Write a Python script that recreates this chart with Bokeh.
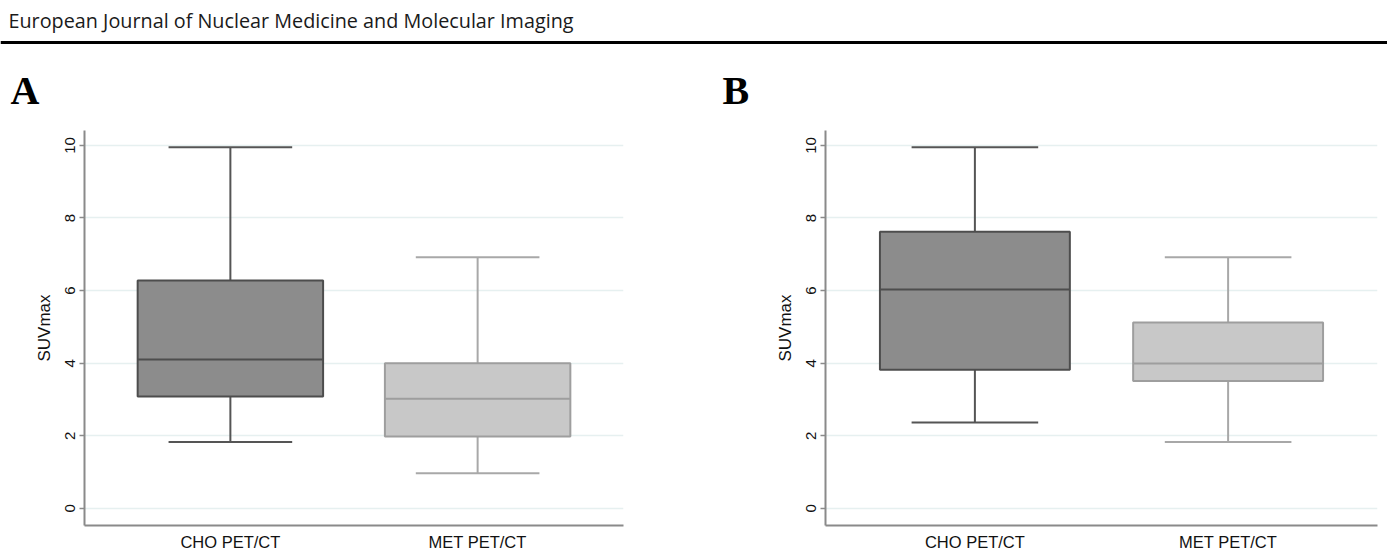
from bokeh.plotting import figure
from bokeh.models import Range1d, FixedTicker, Span
from bokeh.layouts import column, row
from bokeh.core.properties import value
from bokeh.embed import file_html
from bokeh.resources import INLINE

# ---------------- data ----------------
journal = "European Journal of Nuclear Medicine and Molecular Imaging"
panel_letters = ["A", "B"]
categories = ["CHO PET/CT", "MET PET/CT"]
y_ticks = [0, 2, 4, 6, 8, 10]
y_label = "SUVmax"

# panel A
a_low = [1.83, 0.97]
a_q1 = [3.08, 1.98]
a_med = [4.10, 3.02]
a_q3 = [6.28, 4.00]
a_high = [9.95, 6.92]

# panel B
b_low = [2.37, 1.83]
b_q1 = [3.82, 3.51]
b_med = [6.03, 3.99]
b_q3 = [7.62, 5.12]
b_high = [9.95, 6.92]

# styles
fills = ["#8c8c8c", "#c8c8c8"]
edges = ["#4d4d4d", "#9e9e9e"]
whisk = ["#555555", "#a8a8a8"]

W, H = 1387, 556
HEADER_H = 112


def make_header():
    p = figure(width=W, height=HEADER_H, x_range=Range1d(0, W), y_range=Range1d(HEADER_H, 0),
               output_backend="svg", toolbar_location=None, min_border=0)
    p.axis.visible = False
    p.grid.visible = False
    p.outline_line_color = None
    p.text(x=[8], y=[20], text=[journal], text_font=value("Open Sans"),
           text_font_size="19.8px", text_baseline="middle", text_color="#1a1a1a")
    p.add_layout(Span(location=42, dimension="width", line_color="black", line_width=3))
    p.text(x=[10, 722], y=[90, 90], text=panel_letters, text_font=value("Liberation Serif"),
           text_font_style="bold", text_font_size="40px", text_baseline="middle",
           text_color="black")
    return p


def make_panel(low, q1, med, q3, high, width, left, right):
    xs = list(range(1, len(categories) + 1))
    p = figure(width=width, height=H - HEADER_H, x_range=Range1d(0.41, 2.59),
               y_range=Range1d(-0.47, 10.41), output_backend="svg", toolbar_location=None,
               min_border_left=left, min_border_right=right, min_border_top=18,
               min_border_bottom=31)
    p.outline_line_color = None
    p.background_fill_color = "white"
    # whiskers
    p.segment(x0=xs, y0=q3, x1=xs, y1=high, line_color=whisk, line_width=2)
    p.segment(x0=xs, y0=low, x1=xs, y1=q1, line_color=whisk, line_width=2)
    cap_l = [x - 0.25 for x in xs]
    cap_r = [x + 0.25 for x in xs]
    p.segment(x0=cap_l, y0=high, x1=cap_r, y1=high, line_color=whisk, line_width=2)
    p.segment(x0=cap_l, y0=low, x1=cap_r, y1=low, line_color=whisk, line_width=2)
    # boxes
    p.vbar(x=xs, width=0.75, bottom=q1, top=q3, fill_color=fills, line_color=edges, line_width=2)
    box_l = [x - 0.375 for x in xs]
    box_r = [x + 0.375 for x in xs]
    p.segment(x0=box_l, y0=med, x1=box_r, y1=med, line_color=edges, line_width=2)

    # axes
    p.xaxis.ticker = FixedTicker(ticks=xs)
    p.xaxis.major_label_overrides = {x: c for x, c in zip(xs, categories)}
    p.xaxis.major_tick_line_color = None
    p.xaxis.minor_tick_line_color = None
    p.xaxis.major_tick_out = 0
    p.xaxis.major_label_standoff = 7
    p.xaxis.major_label_text_font = "Liberation Sans"
    p.xaxis.major_label_text_font_size = "16.5px"
    p.xaxis.major_label_text_color = "#111111"
    p.xaxis.axis_line_color = "#8a8a8a"
    p.xaxis.axis_line_width = 2

    p.yaxis.ticker = FixedTicker(ticks=y_ticks)
    p.yaxis.minor_tick_line_color = None
    p.yaxis.major_tick_out = 5
    p.yaxis.major_tick_in = 0
    p.yaxis.major_tick_line_color = "#8a8a8a"
    p.yaxis.major_tick_line_width = 1.5
    p.yaxis.axis_line_color = "#8a8a8a"
    p.yaxis.axis_line_width = 2
    p.yaxis.major_label_orientation = "vertical"
    p.yaxis.major_label_standoff = 4
    p.yaxis.major_label_text_font = "Liberation Sans"
    p.yaxis.major_label_text_font_size = "15px"
    p.yaxis.major_label_text_color = "#111111"
    p.yaxis.axis_label = y_label
    p.yaxis.axis_label_text_font = "Liberation Sans"
    p.yaxis.axis_label_text_font_style = "normal"
    p.yaxis.axis_label_text_font_size = "17px"
    p.yaxis.axis_label_text_color = "#111111"
    p.yaxis.axis_label_standoff = 9

    p.xgrid.visible = False
    p.ygrid.ticker = FixedTicker(ticks=y_ticks)
    p.ygrid.grid_line_color = "#e6f0f0"
    p.ygrid.grid_line_width = 1.5
    return p


pa = make_panel(a_low, a_q1, a_med, a_q3, a_high, width=708, left=84, right=85)
pb = make_panel(b_low, b_q1, b_med, b_q3, b_high, width=679, left=117, right=10)

layout = column(make_header(), row(pa, pb))
open("out.html", "w").write(file_html(layout, INLINE))
